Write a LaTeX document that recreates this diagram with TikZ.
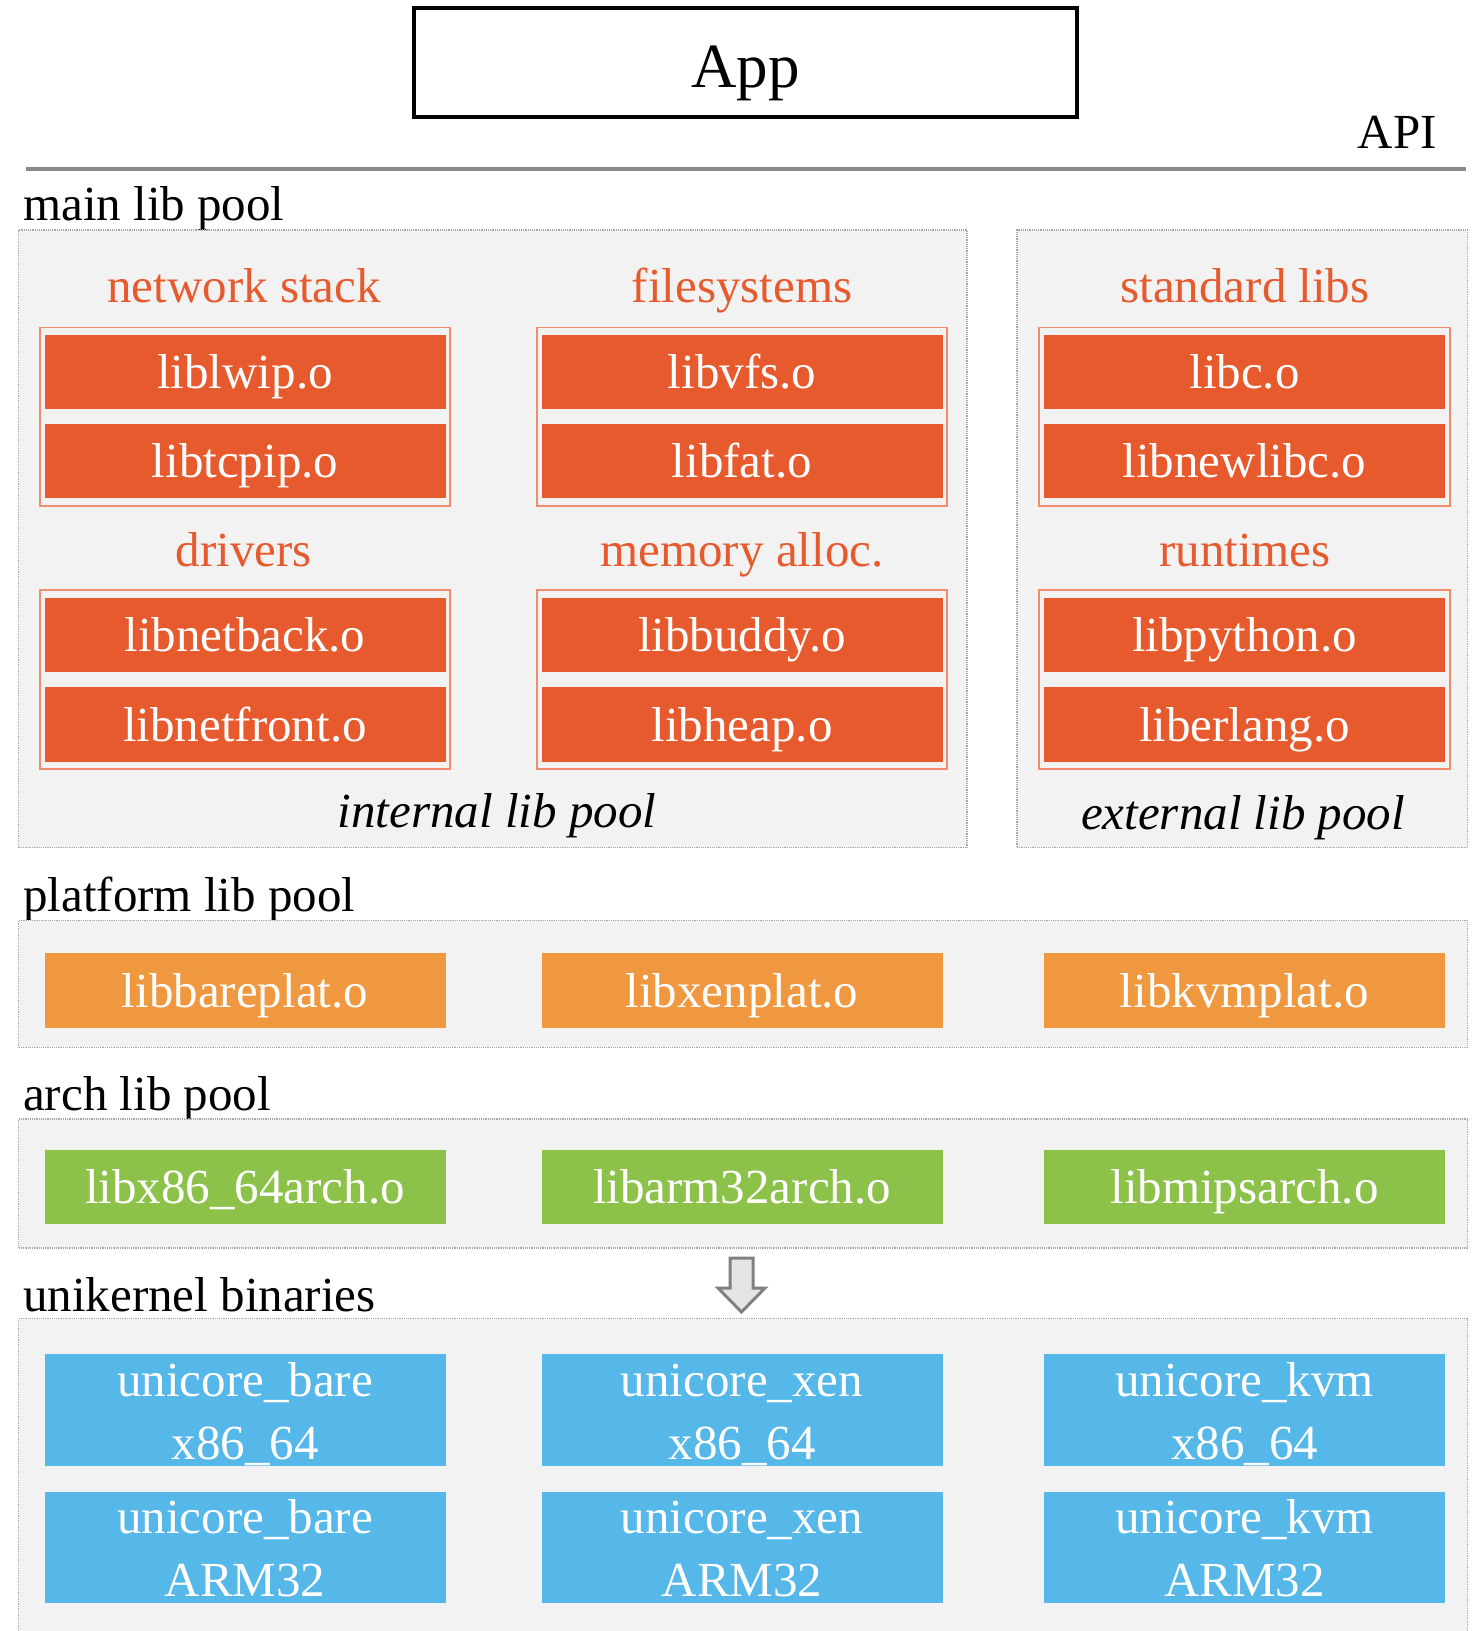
\documentclass[tikz,border=0pt]{standalone}
\usepackage{fontspec}
\setmainfont{Liberation Serif}
\usetikzlibrary{fit}

\definecolor{libred}{HTML}{E75A2D}
\definecolor{grpedge}{HTML}{F08D6E}
\definecolor{platorange}{HTML}{F0983F}
\definecolor{archgreen}{HTML}{8CC24A}
\definecolor{binblue}{HTML}{56B7E9}
\definecolor{poolfill}{HTML}{F2F2F2}
\definecolor{pooledge}{HTML}{A6A6A6}
\definecolor{apiline}{HTML}{898989}

\tikzset{
  txt/.style={font=\fontsize{49}{63}\selectfont},
  pool/.style={draw=pooledge, densely dotted, line width=1.2pt, fill=poolfill, inner sep=0pt},
  grp/.style={draw=grpedge, line width=1.8pt, inner xsep=4.5pt, inner ysep=7.2pt},
  libbox/.style={txt, text=white, inner sep=0pt, minimum width=401pt, minimum height=74.5pt,
                 text height=40pt, text depth=7pt},
  redlib/.style={libbox, fill=libred},
  platlib/.style={libbox, fill=platorange},
  archlib/.style={libbox, fill=archgreen},
  binbox/.style={txt, text=white, fill=binblue, inner sep=0pt, align=center,
                 minimum width=401pt, minimum height=111.7pt, text height=101pt, text depth=2.6pt},
  cattitle/.style={txt, text=libred, anchor=base, inner sep=0pt},
  poolname/.style={txt, anchor=base west, inner sep=0pt},
  pooltag/.style={txt, font=\fontsize{49}{63}\selectfont\itshape, anchor=base, inner sep=0pt},
}

\begin{document}
\begin{tikzpicture}[x=1pt, y=-1pt]
\useasboundingbox (0,0) rectangle (1482,1631);

% application on top of the API
\node[draw, line width=4pt, minimum width=663pt, minimum height=109pt, inner sep=0pt,
      font=\fontsize{63}{70}\selectfont, text height=50pt, text depth=0pt] (app) at (745.5,62.8) {App};
\node[txt, anchor=base east, inner sep=0pt] (api) at (1437,148) {API};
\coordinate (apiL) at (26,168.5);
\coordinate (apiR) at (1466,168.5);
\draw[apiline, line width=4pt] (apiL) -- (apiR);

% main library pool
\node[poolname] (mainlbl) at (23,220.5) {main lib pool};
\node[pool, fit={(18.7,230) (967,847.6)}] (intpool) {};
\node[pool, fit={(1017,230) (1467.4,847.6)}] (extpool) {};

\node[cattitle] (netttl) at (244,302.7) {network stack};
\node[cattitle] (fsttl)  at (742,302.7) {filesystems};
\node[cattitle] (stdttl) at (1245,302.7) {standard libs};
\node[cattitle] (drvttl) at (244,566) {drivers};
\node[cattitle] (memttl) at (742,566) {memory alloc.};
\node[cattitle] (rtttl)  at (1245,566) {runtimes};

\node[redlib] (lwip)    at (245,372.2)   {liblwip.o};
\node[redlib] (tcpip)   at (245,461.2)   {libtcpip.o};
\node[redlib] (vfs)     at (742,372.2)   {libvfs.o};
\node[redlib] (fat)     at (742,461.2)   {libfat.o};
\node[redlib] (libc)    at (1244.5,372.2){libc.o};
\node[redlib] (newlibc) at (1244.5,461.2){libnewlibc.o};
\node[redlib] (netback) at (245,635)     {libnetback.o};
\node[redlib] (netfront)at (245,724.5)   {libnetfront.o};
\node[redlib] (buddy)   at (742,635)     {libbuddy.o};
\node[redlib] (heap)    at (742,724.5)   {libheap.o};
\node[redlib] (python)  at (1244.5,635)  {libpython.o};
\node[redlib] (erlang)  at (1244.5,724.5){liberlang.o};

\node[grp, fit=(lwip)(tcpip)] (netgrp) {};
\node[grp, fit=(vfs)(fat)] (fsgrp) {};
\node[grp, fit=(libc)(newlibc)] (stdgrp) {};
\node[grp, fit=(netback)(netfront)] (drvgrp) {};
\node[grp, fit=(buddy)(heap)] (memgrp) {};
\node[grp, fit=(python)(erlang)] (rtgrp) {};

\node[pooltag] (inttag) at (497,827) {internal lib pool};
\node[pooltag] (exttag) at (1243,829) {external lib pool};

% platform libraries
\node[poolname] (platlbl) at (23,911) {platform lib pool};
\node[pool, fit={(18.7,920.4) (1467.4,1047.3)}] (platpool) {};
\node[platlib] (bareplat) at (245,990.6)    {libbareplat.o};
\node[platlib] (xenplat)  at (742,990.6)    {libxenplat.o};
\node[platlib] (kvmplat)  at (1244.5,990.6) {libkvmplat.o};

% architecture libraries
\node[poolname] (archlbl) at (23,1110.7) {arch lib pool};
\node[pool, fit={(18.7,1119) (1467.4,1248)}] (archpool) {};
\node[archlib] (x86arch)  at (245,1187)    {libx86\_64arch.o};
\node[archlib] (armarch)  at (742,1187)    {libarm32arch.o};
\node[archlib] (mipsarch) at (1244.5,1187) {libmipsarch.o};

% build step
\draw[gray, line width=3pt, fill=gray!20, line join=miter]
  (730,1258) -- (753,1258) -- (753,1288) -- (765,1288) -- (741.5,1312)
  -- (718,1288) -- (730,1288) -- cycle;

% resulting images
\node[poolname] (binlbl) at (23,1311) {unikernel binaries};
\node[pool, fit={(18.7,1318.7) (1467.4,1650)}] (binpool) {};
\node[binbox] (barex86) at (245,1409.8)    {unicore\_bare\\x86\_64};
\node[binbox] (xenx86)  at (742,1409.8)    {unicore\_xen\\x86\_64};
\node[binbox] (kvmx86)  at (1244.5,1409.8) {unicore\_kvm\\x86\_64};
\node[binbox] (barearm) at (245,1547.5)    {unicore\_bare\\ARM32};
\node[binbox] (xenarm)  at (742,1547.5)    {unicore\_xen\\ARM32};
\node[binbox] (kvmarm)  at (1244.5,1547.5) {unicore\_kvm\\ARM32};
\end{tikzpicture}
\end{document}
